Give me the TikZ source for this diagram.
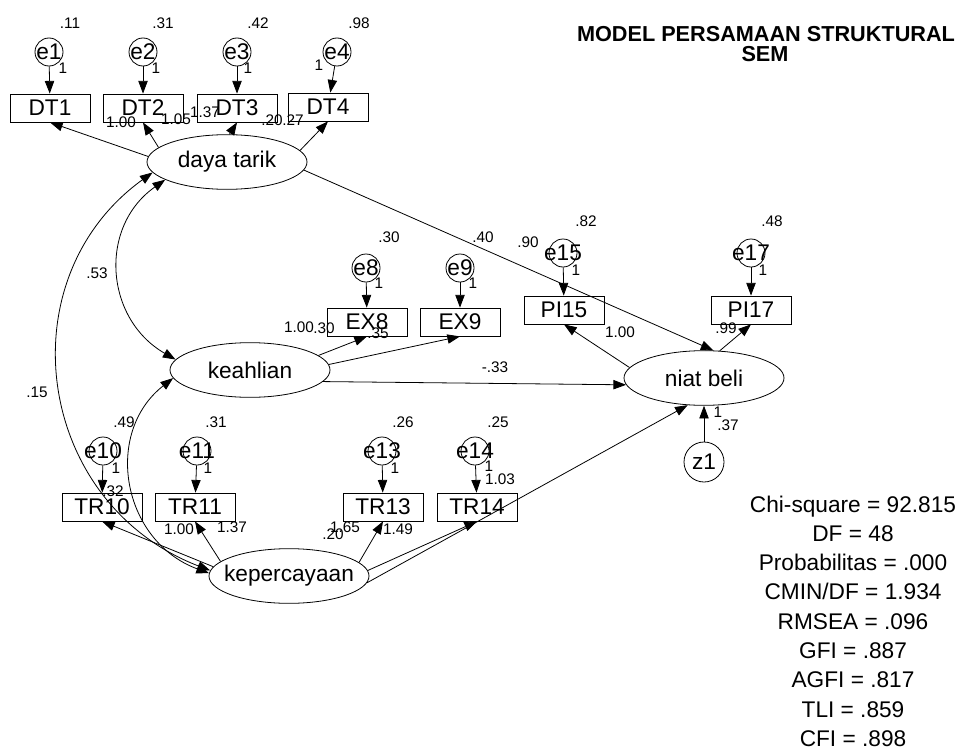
\documentclass[tikz,border=0pt]{standalone}
\usepackage{fontspec}
\setmainfont{Liberation Sans}
\usetikzlibrary{arrows.meta,shapes.geometric}
\newcommand{\nw}[1]{\makebox[0pt]{#1}}
\begin{document}
\begin{tikzpicture}[x=0.75pt,y=-0.75pt,line width=0.6pt,
  >={Triangle[length=9.5pt,width=7pt]},
  obs/.style={draw,minimum width=60pt,minimum height=21pt,inner sep=0pt,font=\fontsize{17}{20}\selectfont},
  lat/.style={draw,ellipse,minimum width=120pt,minimum height=41pt,inner sep=0pt,font=\fontsize{17}{20}\selectfont},
  err/.style={draw,circle,minimum size=21pt,inner sep=0pt,font=\fontsize{17}{20}\selectfont},
  num/.style={inner sep=0pt,font=\fontsize{11.5}{13}\selectfont},
  reg/.style={->},
  cov/.style={<->},
  stat/.style={anchor=base,inner sep=0pt,font=\fontsize{17}{20}\selectfont}]
\useasboundingbox (0,0) rectangle (967,749);
\node[anchor=base,inner sep=0pt,font=\bfseries\fontsize{16.25}{19}\selectfont] (title) at (766,42) {MODEL PERSAMAAN STRUKTURAL};
\node[anchor=base,inner sep=0pt,font=\bfseries\fontsize{16.25}{19}\selectfont] (sem) at (765,62) {SEM};
\node[obs] (DT1) at (50,108) {DT1};
\node[obs] (DT2) at (143,108) {DT2};
\node[obs] (DT3) at (237,108) {DT3};
\node[obs] (DT4) at (328,107) {DT4};
\node[obs] (EX8) at (367,322) {EX8};
\node[obs] (EX9) at (460,322) {EX9};
\node[obs] (PI15) at (564,310) {PI15};
\node[obs] (PI17) at (751,310) {PI17};
\node[obs] (TR10) at (102,507) {TR10};
\node[obs] (TR11) at (195,507) {TR11};
\node[obs] (TR13) at (383,507) {TR13};
\node[obs] (TR14) at (477,507) {TR14};
\node[err] (e1) at (49,52) {\nw{e1}};
\node[err] (e2) at (143,52) {\nw{e2}};
\node[err] (e3) at (237,52) {\nw{e3}};
\node[err] (e4) at (337,52) {\nw{e4}};
\node[err] (e8) at (366,268) {\nw{e8}};
\node[err] (e9) at (460,268) {\nw{e9}};
\node[err] (e15) at (563,253) {\nw{e15}};
\node[err] (e17) at (751,253) {\nw{e17}};
\node[err] (e10) at (103,451) {\nw{e10}};
\node[err] (e11) at (197,451) {\nw{e11}};
\node[err] (e13) at (382,451) {\nw{e13}};
\node[err] (e14) at (475,451) {\nw{e14}};
\node[err,minimum size=30pt] (z1) at (704,462) {\nw{z1}};
\node[lat] (daya) at (227,162) {\nw{daya tarik}};
\node[lat] (keah) at (250,370) {\nw{keahlian}};
\node[lat] (niat) at (704,378) {\nw{niat beli}};
\node[lat] (kep) at (289,576) {\nw{kepercayaan}};
\draw[reg] (e1) -- (DT1);
\draw[reg] (e2) -- (DT2);
\draw[reg] (e3) -- (DT3);
\draw[reg] (e4) -- (DT4);
\draw[reg] (e8) -- (EX8);
\draw[reg] (e9) -- (EX9);
\draw[reg] (e15) -- (PI15);
\draw[reg] (e17) -- (PI17);
\draw[reg] (e10) -- (TR10);
\draw[reg] (e11) -- (TR11);
\draw[reg] (e13) -- (TR13);
\draw[reg] (e14) -- (TR14);
\draw[reg] (z1) -- (niat);
\draw[reg] (daya.176) -- (DT1.south);
\draw[reg] (daya.168) -- (DT2.south);
\draw[reg] (daya.85) -- (DT3.south);
\draw[reg] (daya.9) -- (DT4.south);
\draw[reg] (keah.12) -- (EX8.south);
\draw[reg] (keah.4) -- (EX9.south);
\draw[reg] (niat.172) -- (PI15.south);
\draw[reg] (niat.60) -- (PI17.south);
\draw[reg] (kep.173) -- (TR10.south);
\draw[reg] (kep.168) -- (TR11.south);
\draw[reg] (kep.11) -- (TR13.south);
\draw[reg] (kep.4) -- (TR14.south);
\draw[reg] (daya.354) -- (niat.71);
\draw[reg] (keah.351) -- (niat.185);
\draw[reg] (kep.355) -- (niat.239);
\draw[cov] (daya.188) .. controls (5,279) and (35,503) .. (kep.176);
\draw[cov] (daya.196) .. controls (98,227) and (105,319) .. (keah.172);
\draw[cov] (keah.186) .. controls (103,433) and (122,541) .. (kep.178);
\node[num] (v1) at (70,23) {.11};
\node[num] (v2) at (163,23) {.31};
\node[num] (v3) at (258,23) {.42};
\node[num] (v4) at (359,23) {.98};
\node[num] (o1) at (63,68) {1};
\node[num] (o2) at (156,68) {1};
\node[num] (o3) at (248,68) {1};
\node[num] (o4) at (319,65) {1};
\node[num] (w1) at (121,122) {1.00};
\node[num] (w2) at (176,119) {1.05};
\node[num] (w3) at (205,112) {1.37};
\node[num] (w4) at (272,120) {.20};
\node[num] (w5) at (293,120) {.27};
\node[num] (v8) at (389,237) {.30};
\node[num] (v9) at (483,237) {.40};
\node[num] (r1) at (528,242) {.90};
\node[num] (v15) at (586,221) {.82};
\node[num] (v17) at (772,221) {.48};
\node[num] (o8) at (379,283) {1};
\node[num] (o9) at (473,283) {1};
\node[num] (o15) at (576,270) {1};
\node[num] (o17) at (763,270) {1};
\node[num] (w8) at (299,327) {1.00};
\node[num] (w9) at (324,328) {.30};
\node[num] (w10) at (378,333) {.35};
\node[num] (w11) at (620,332) {1.00};
\node[num] (w12) at (726,328) {.99};
\node[num] (w13) at (495,367) {-.33};
\node[num] (c1) at (97,273) {.53};
\node[num] (c2) at (37,392) {.15};
\node[num] (o20) at (718,412) {1};
\node[num] (v20) at (728,425) {.37};
\node[num] (v10) at (124,422) {.49};
\node[num] (v11) at (216,422) {.31};
\node[num] (v13) at (403,422) {.26};
\node[num] (v14) at (498,422) {.25};
\node[num] (o10) at (116,468) {1};
\node[num] (o11) at (208,468) {1};
\node[num] (o13) at (395,468) {1};
\node[num] (o14) at (489,466) {1};
\node[num] (w14) at (113,491) {.32};
\node[num] (w15) at (500,479) {1.03};
\node[num] (w16) at (179,529) {1.00};
\node[num] (w17) at (232,527) {1.37};
\node[num] (w18) at (345,527) {1.65};
\node[num] (w19) at (333,534) {.20};
\node[num] (w20) at (398,529) {1.49};
\foreach \s [count=\i] in {Chi-square = 92.815, DF = 48, Probabilitas = .000, CMIN/DF = 1.934, RMSEA = .096, GFI = .887, AGFI = .817, TLI = .859, CFI = .898}
  \node[stat] (fit\i) at (853,{512+29.3*(\i-1)}) {\s};
\end{tikzpicture}
\end{document}
